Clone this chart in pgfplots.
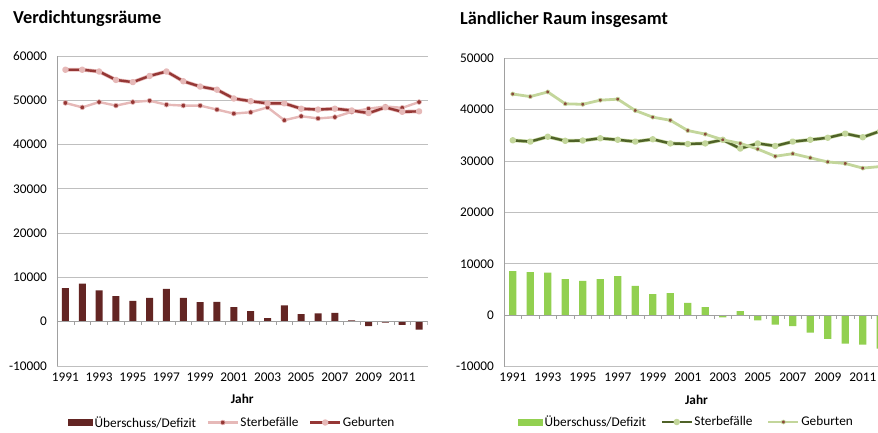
\documentclass[border=0pt]{standalone}
\usepackage{pgfplots}
\usepackage{pgfplotstable}
\pgfplotsset{compat=1.18}
\usepackage{fontspec}
\setmainfont{Carlito}
\definecolor{barL}{HTML}{632523}
\definecolor{darkL}{HTML}{953735}
\definecolor{lightL}{HTML}{E6B9B8}
\definecolor{barR}{HTML}{92D050}
\definecolor{darkR}{HTML}{4F6228}
\definecolor{lightR}{HTML}{C3D69B}
\definecolor{mkR}{HTML}{8A4A3A}
\definecolor{gridc}{HTML}{BFBFBF}
\definecolor{axc}{HTML}{A0A0A0}

\pgfplotstableread{
year ueb ster geb
1991 7600 49400 56900
1992 8600 48400 56900
1993 7100 49600 56500
1994 5800 48800 54600
1995 4700 49600 54100
1996 5400 49900 55500
1997 7400 49000 56500
1998 5400 48800 54300
1999 4400 48800 53100
2000 4500 47900 52400
2001 3300 47000 50400
2002 2400 47300 49800
2003 800 48400 49300
2004 3700 45500 49300
2005 1700 46400 48100
2006 1900 45900 47900
2007 2000 46200 48100
2008 300 47400 47700
2009 -1000 48100 47100
2010 -200 48600 48400
2011 -700 48300 47400
2012 -1800 49600 47500
}\dataL

\pgfplotstableread{
year ueb ster geb
1991 8600 34000 43000
1992 8400 33750 42500
1993 8300 34700 43400
1994 7000 33900 41100
1995 6700 33950 41000
1996 7000 34400 41800
1997 7600 34100 42000
1998 5700 33750 39800
1999 4100 34200 38500
2000 4300 33400 37900
2001 2400 33300 35900
2002 1600 33400 35200
2003 -400 34100 34100
2004 800 32400 33400
2005 -1000 33400 32300
2006 -1800 32900 30900
2007 -2100 33750 31400
2008 -3400 34100 30600
2009 -4600 34500 29800
2010 -5500 35300 29500
2011 -5700 34600 28600
2012 -6500 35800 28900
}\dataR

\pgfplotsset{
  mychart/.style={
    scale only axis,
    xmin=1990.5, xmax=2012.5,
    ytick distance=10000,
    xtick={1991,1993,...,2011},
    axis y line=left, axis x line=bottom,
    axis line style={-},
    x axis line style={draw=none},
    y axis line style={axc, line width=0.8pt},
    ymajorgrids, major grid style={gridc, line width=0.8pt},
    major tick length=0pt,
    scaled y ticks=false,
    /pgf/number format/.cd, 1000 sep={}, assume math mode=true, /pgfplots/.cd,
    tick label style={font=\fontsize{13.3}{16}\selectfont, black},
    yticklabel style={anchor=east, inner sep=0pt, xshift=-10pt},
    xticklabel style={anchor=base, inner sep=0pt, yshift=-15pt},
    xlabel={Jahr},
    xlabel style={at={(axis description cs:0.5,0)}, anchor=base, inner sep=0pt, yshift=-37.5pt, font=\bfseries\fontsize{13.3}{16}\selectfont},
    every axis title shift=0pt,
    title style={at={(axis description cs:0,1)}, anchor=base west, inner sep=0pt, font=\bfseries\fontsize{18.3}{22}\selectfont},
    legend columns=3,
    legend style={draw=none, fill=none, inner sep=0pt, font=\fontsize{13.3}{16}\selectfont,
      nodes={inner sep=1.5pt}},
    line leg/.style={legend image code/.code={\draw[mark repeat=2,mark phase=2,##1] plot coordinates {(0pt,0pt) (15pt,0pt) (30pt,0pt)};}},
  }
}

\begin{document}
\begin{tikzpicture}
\useasboundingbox (0pt,0pt) rectangle (878pt,432pt);
\clip (0pt,0pt) rectangle (878pt,432pt);

% ---------- left chart ----------
\begin{axis}[mychart,
  at={(57pt,66pt)}, anchor=south west,
  width=370.5pt, height=310pt,
  ymin=-10000, ymax=60000,
  title={Verdichtungsräume},
  title style={xshift=-44pt, yshift=32.5pt},
  legend style={at={(axis description cs:0,0)}, anchor=west, xshift=11pt, yshift=-56.5pt,
    /tikz/every even column/.append style={column sep=9pt}},
]
\addplot[ybar, bar width=7pt, fill=barL, draw=none,
  legend image code/.code={\fill[barL] (0pt,-3.5pt) rectangle (25pt,3.5pt);}]
  table[x=year, y=ueb] {\dataL};
\addlegendentry{Überschuss/Defizit}
\addplot[line leg, lightL, line width=2.4pt, line join=round, mark=*, mark size=2.4pt,
  mark options={draw=lightL, fill=darkL, line width=0.6pt}]
  table[x=year, y=ster] {\dataL};
\addlegendentry{Sterbefälle}
\addplot[forget plot, lightL, line width=3.8pt, line join=round]
  table[x=year, y=geb] {\dataL};
\addplot[line leg, darkL, line width=2.4pt, line join=round, mark=*, mark size=2pt,
  mark options={draw=lightL, fill=lightL}]
  table[x=year, y=geb] {\dataL};
\addlegendentry{Geburten}
\draw[axc, line width=0.8pt] (axis cs:1990.5,0) -- (axis cs:2012.5,0);
\pgfplotsinvokeforeach{1990,...,2012}{\draw[axc, line width=0.6pt] (axis cs:#1.5,0) -- ([yshift=-3.5pt]axis cs:#1.5,0);}
\end{axis}

% ---------- right chart ----------
\begin{axis}[mychart,
  at={(504pt,65.3pt)}, anchor=south west,
  width=385pt, height=308.7pt,
  ymin=-10000, ymax=50000,
  title={Ländlicher Raum insgesamt},
  title style={xshift=-44pt, yshift=34pt},
  legend style={at={(axis description cs:0,0)}, anchor=west, xshift=14pt, yshift=-55.3pt,
    /tikz/every even column/.append style={column sep=13pt}},
]
\addplot[ybar, bar width=7.3pt, fill=barR, draw=none,
  legend image code/.code={\fill[barR] (0pt,-3.5pt) rectangle (25pt,3.5pt);}]
  table[x=year, y=ueb] {\dataR};
\addlegendentry{Überschuss/Defizit}
\addplot[forget plot, lightR, line width=3.6pt, line join=round]
  table[x=year, y=ster] {\dataR};
\addplot[line leg, darkR, line width=2.4pt, line join=round, mark=*, mark size=2pt,
  mark options={draw=lightR, fill=lightR}]
  table[x=year, y=ster] {\dataR};
\addlegendentry{Sterbefälle}
\addplot[line leg, lightR, line width=2.8pt, line join=round, mark=*, mark size=2pt,
  mark options={draw=lightR, fill=mkR, line width=0.7pt}]
  table[x=year, y=geb] {\dataR};
\addlegendentry{Geburten}
\draw[axc, line width=0.8pt] (axis cs:1990.5,0) -- (axis cs:2012.5,0);
\pgfplotsinvokeforeach{1990,...,2012}{\draw[axc, line width=0.6pt] (axis cs:#1.5,0) -- ([yshift=-3.5pt]axis cs:#1.5,0);}
\end{axis}
\end{tikzpicture}
\end{document}
